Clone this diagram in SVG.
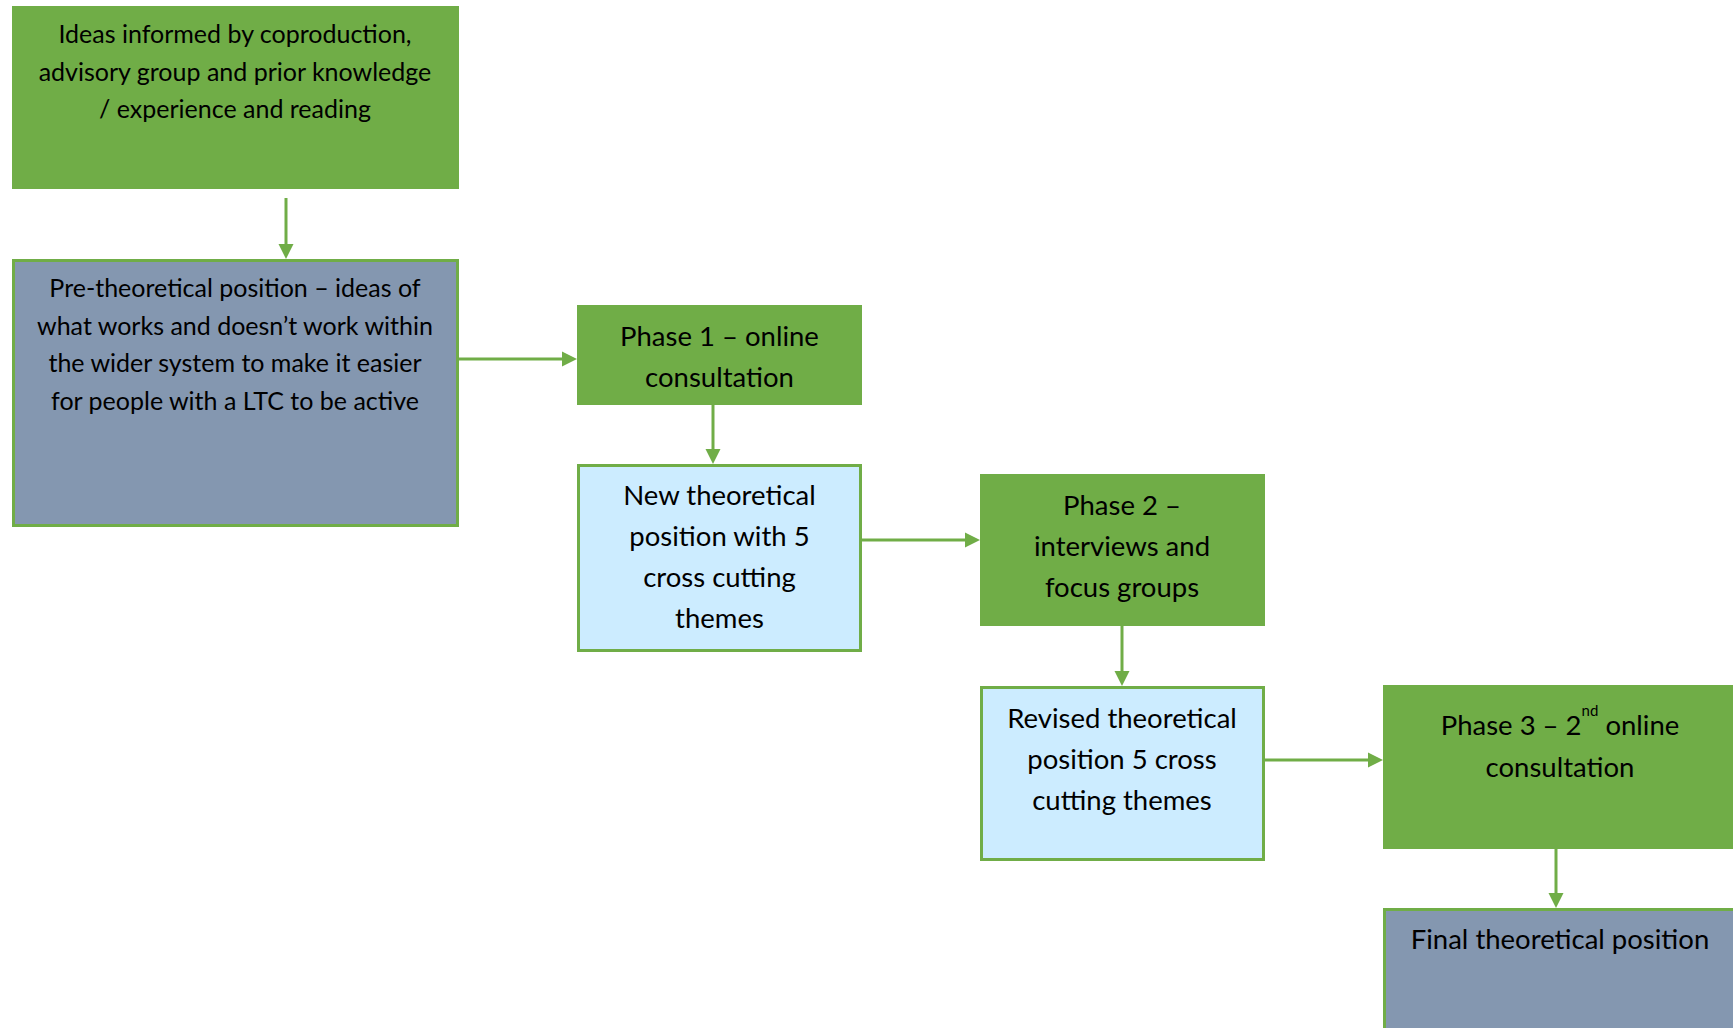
<svg xmlns="http://www.w3.org/2000/svg" width="1733" height="1028" viewBox="0 0 1733 1028">
  <style>
    .green { fill: #70AD47; }
    .grey { fill: #8497B0; stroke: #70AD47; stroke-width: 3; }
    .blue { fill: #CCECFF; stroke: #70AD47; stroke-width: 3; }
    .t { font-family: Lato, "Liberation Sans", sans-serif; fill: #000; text-anchor: middle; }
    .s { font-size: 25px; }
    .m { font-size: 27.5px; }
    .conn { stroke: #70AD47; stroke-width: 3; fill: none; marker-end: url(#arr); }
  </style>
  <defs>
    <marker id="arr" markerUnits="userSpaceOnUse" markerWidth="16" markerHeight="16" refX="5" refY="8" orient="auto">
      <path d="M0,0.5 L15,8 L0,15.5 z" fill="#70AD47"/>
    </marker>
  </defs>
  <rect width="1733" height="1028" fill="#FFFFFF"/>

  <g id="connectors">
    <line class="conn" x1="286" y1="198" x2="286" y2="249"/>
    <line class="conn" x1="459" y1="359" x2="567" y2="359"/>
    <line class="conn" x1="713" y1="405" x2="713" y2="454"/>
    <line class="conn" x1="862" y1="540" x2="970" y2="540"/>
    <line class="conn" x1="1122" y1="626" x2="1122" y2="676"/>
    <line class="conn" x1="1265" y1="760" x2="1373" y2="760"/>
    <line class="conn" x1="1556" y1="849" x2="1556" y2="898"/>
  </g>

  <g id="ideas">
    <rect class="green" x="12" y="6" width="447" height="183"/>
    <text class="t s" x="235" y="43">Ideas informed by coproduction,</text>
    <text class="t s" x="235" y="80.5">advisory group and prior knowledge</text>
    <text class="t s" x="235" y="118">/ experience and reading</text>
  </g>

  <g id="pre-theoretical">
    <rect class="grey" x="13.5" y="260.5" width="444" height="265"/>
    <text class="t s" x="235" y="297">Pre-theoretical position – ideas of</text>
    <text class="t s" x="235" y="334.5">what works and doesn’t work within</text>
    <text class="t s" x="235" y="372">the wider system to make it easier</text>
    <text class="t s" x="235" y="409.5">for people with a LTC to be active</text>
  </g>

  <g id="phase1">
    <rect class="green" x="577" y="305" width="285" height="100"/>
    <text class="t m" x="719.5" y="346">Phase 1 – online</text>
    <text class="t m" x="719.5" y="387">consultation</text>
  </g>

  <g id="new-theoretical">
    <rect class="blue" x="578.5" y="465.5" width="282" height="185"/>
    <text class="t m" x="719.5" y="505">New theoretical</text>
    <text class="t m" x="719.5" y="546">position with 5</text>
    <text class="t m" x="719.5" y="587">cross cutting</text>
    <text class="t m" x="719.5" y="628">themes</text>
  </g>

  <g id="phase2">
    <rect class="green" x="980" y="474" width="285" height="152"/>
    <text class="t m" x="1122" y="515">Phase 2 –</text>
    <text class="t m" x="1122" y="556">interviews and</text>
    <text class="t m" x="1122" y="597">focus groups</text>
  </g>

  <g id="revised">
    <rect class="blue" x="981.5" y="687.5" width="282" height="172"/>
    <text class="t m" x="1122" y="728">Revised theoretical</text>
    <text class="t m" x="1122" y="769">position 5 cross</text>
    <text class="t m" x="1122" y="810">cutting themes</text>
  </g>

  <g id="phase3">
    <rect class="green" x="1383" y="685" width="360" height="164"/>
    <text class="t m" x="1560" y="735">Phase 3 – 2<tspan font-size="15" dy="-19">nd</tspan><tspan dy="19"> online</tspan></text>
    <text class="t m" x="1560" y="777">consultation</text>
  </g>

  <g id="final">
    <rect class="grey" x="1384.5" y="909.5" width="360" height="130"/>
    <text class="t m" x="1560" y="949">Final theoretical position</text>
  </g>
</svg>
